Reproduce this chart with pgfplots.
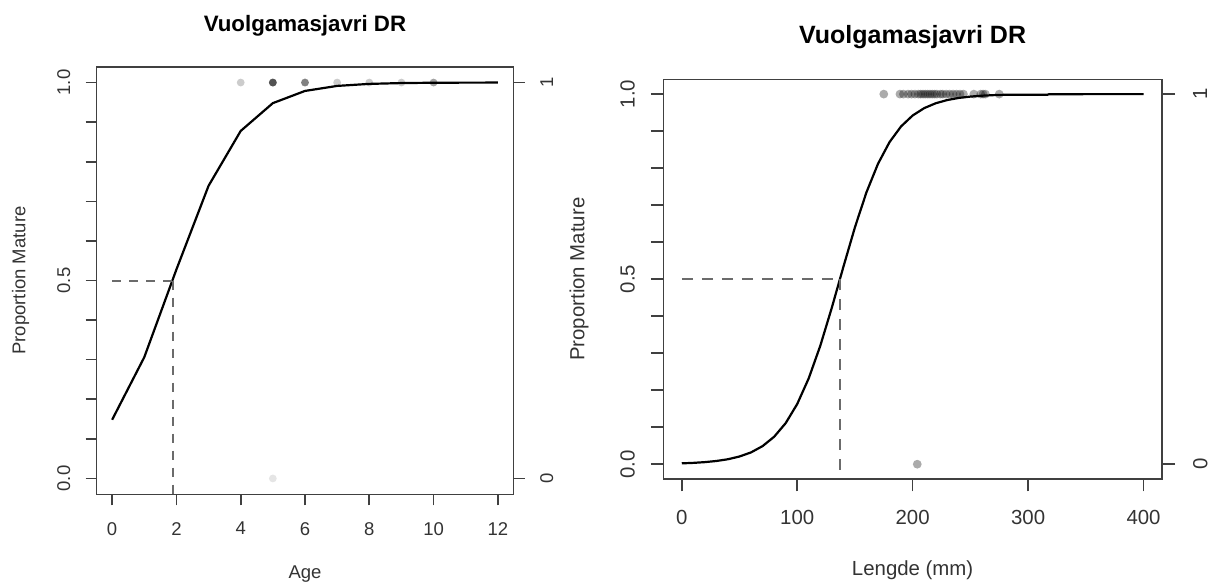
\documentclass[border=0pt]{standalone}
\usepackage{pgfplots}
\pgfplotsset{compat=1.18}
\usepackage{fontspec}
\setmainfont{Liberation Sans}
\begin{document}
\begin{tikzpicture}
\path[use as bounding box] (0,0) rectangle (606pt,293pt);
\pgfplotsset{
  rbase/.style={
    scale only axis, anchor=south west,
    axis line style={black!75, line width=0.8pt},
    every tick/.style={black!75, line width=0.8pt},
    tick align=outside,
    every axis title shift=0pt,
  },
}
% ===================== LEFT PANEL =====================
\begin{axis}[rbase,
  at={(48.35pt,45.85pt)}, width=208.3pt, height=213.8pt,
  xmin=-0.48, xmax=12.48, ymin=-0.04, ymax=1.04,
  xtick={0,2,4,6,8,10,12}, xticklabels={0,2,4,6,8,10,12},
  ytick={0,0.5,1}, yticklabels={0.0,0.5,1.0},
  minor ytick={0.1,0.2,0.3,0.4,0.6,0.7,0.8,0.9},
  xtick pos=left, ytick pos=left,
  major tick length=5.5pt, minor tick length=5.5pt,
  ticklabel style={font=\fontsize{9.25}{11}\selectfont, text=black!80, inner sep=0pt},
  yticklabel style={rotate=90, anchor=south},
  xticklabel style={anchor=north},
  xticklabel shift=8.2pt, yticklabel shift=7.5pt,
  title={\textbf{Vuolgamasjavri DR}},
  title style={at={(axis description cs:0.5,1.0952)}, anchor=center, yshift=0pt, font=\fontsize{11.15}{13}\selectfont, inner sep=0pt},
  xlabel={Age}, ylabel={Proportion Mature},
  xlabel style={at={(axis description cs:0.5,-0.1864)}, anchor=center, font=\fontsize{9.25}{11}\selectfont, text=black!80, inner sep=0pt},
  ylabel style={at={(axis description cs:-0.1829,0.5)}, anchor=center, font=\fontsize{9.25}{11}\selectfont, text=black!80, inner sep=0pt},
]
% observations (mature = 1), overlapping semi-transparent
\addplot[only marks, mark=*, mark size=1.95pt, mark options={draw opacity=0, fill=black, fill opacity=0.2}]
  coordinates {(4,1) (5,1) (5,1) (5,1) (5,1) (5,1) (6,1) (6,1) (6,1) (7,1) (8,1) (9,1) (10,1) (10,1)};
% observations (immature = 0)
\addplot[only marks, mark=*, mark size=1.95pt, mark options={draw opacity=0, fill=black, fill opacity=0.1}]
  coordinates {(5,0)};
% fitted maturity ogive
\addplot[black, line width=1.1pt] coordinates {
  (0,0.1483) (1,0.3062) (2,0.5279) (3,0.7392) (4,0.8778) (5,0.9480) (6,0.9788)
  (7,0.9915) (8,0.9966) (9,0.9987) (10,0.9995) (11,0.9998) (12,0.9999)};
% A50
\addplot[black!58, line width=1pt, dash pattern=on 4.5pt off 4pt] coordinates {(0,0.5) (1.88,0.5)};
\addplot[black!58, line width=1pt, dash pattern=on 4.5pt off 4pt] coordinates {(1.88,0.5) (1.88,-0.04)};
\end{axis}
% right-hand axis of left panel
\begin{axis}[rbase,
  at={(48.35pt,45.85pt)}, width=208.3pt, height=213.8pt,
  xmin=-0.48, xmax=12.48, ymin=-0.04, ymax=1.04,
  axis x line=none, axis y line*=right, tick align=outside,
  ytick={0,1}, yticklabels={0,1},
  major tick length=5.8pt,
  ticklabel style={font=\fontsize{9.25}{11}\selectfont, text=black!80, inner sep=0pt},
  yticklabel style={rotate=90, anchor=north},
  yticklabel shift=7.5pt,
]
\end{axis}
% ===================== RIGHT PANEL =====================
\begin{axis}[rbase,
  at={(331.65pt,53.5pt)}, width=249.35pt, height=199.85pt,
  xmin=-16, xmax=416, ymin=-0.04, ymax=1.04,
  xtick={0,100,200,300,400}, xticklabels={0,100,200,300,400},
  ytick={0,0.5,1}, yticklabels={0.0,0.5,1.0},
  minor ytick={0.1,0.2,0.3,0.4,0.6,0.7,0.8,0.9},
  xtick pos=left, ytick pos=left,
  major tick length=6.2pt, minor tick length=6.2pt,
  ticklabel style={font=\fontsize{10.2}{12}\selectfont, text=black!80, inner sep=0pt},
  yticklabel style={rotate=90, anchor=south},
  xticklabel style={anchor=north},
  xticklabel shift=9.3pt, yticklabel shift=7.8pt,
  title={\textbf{Vuolgamasjavri DR}},
  title style={at={(axis description cs:0.5,1.1048)}, anchor=center, yshift=0pt, font=\fontsize{12.5}{15}\selectfont, inner sep=0pt},
  xlabel={Lengde (mm)}, ylabel={Proportion Mature},
  xlabel style={at={(axis description cs:0.5,-0.2277)}, anchor=center, font=\fontsize{10.2}{12}\selectfont, text=black!80, inner sep=0pt},
  ylabel style={at={(axis description cs:-0.169,0.5)}, anchor=center, font=\fontsize{10.2}{12}\selectfont, text=black!80, inner sep=0pt},
]
\addplot[only marks, mark=*, mark size=2.2pt, mark options={draw opacity=0, fill=black, fill opacity=0.33}]
  coordinates {(175,1) (189,1) (192,1) (196,1) (199,1) (202,1) (205,1) (207,1) (209,1)
  (211,1) (213,1) (215,1) (217,1) (219,1) (221,1) (224,1) (226,1) (229,1) (232,1)
  (235,1) (238,1) (241,1) (244,1) (253,1) (259,1) (261,1) (263,1) (275,1)};
\addplot[only marks, mark=*, mark size=2.2pt, mark options={draw opacity=0, fill=black, fill opacity=0.33}]
  coordinates {(204,0)};
\addplot[black, line width=1.1pt] coordinates {
  (0,0.0023) (10,0.0036) (20,0.0056) (30,0.0087) (40,0.0134) (50,0.0208) (60,0.0319)
  (70,0.0489) (80,0.0741) (90,0.1109) (100,0.1626) (110,0.2322) (120,0.3201)
  (130,0.4231) (140,0.5332) (150,0.6402) (160,0.7348) (170,0.8118) (180,0.8705)
  (190,0.9128) (200,0.9422) (210,0.9621) (220,0.9753) (230,0.9840) (240,0.9897)
  (250,0.9933) (260,0.9957) (270,0.9972) (280,0.9982) (317,0.9985) (318,0.9997) (350,0.9999) (400,1.0)};
\addplot[black!58, line width=1pt, dash pattern=on 5.5pt off 4.5pt] coordinates {(0,0.5) (136.8,0.5)};
\addplot[black!58, line width=1pt, dash pattern=on 5.5pt off 4.5pt] coordinates {(136.8,0.5) (136.8,-0.04)};
\end{axis}
\begin{axis}[rbase,
  at={(331.65pt,53.5pt)}, width=249.35pt, height=199.85pt,
  xmin=-16, xmax=416, ymin=-0.04, ymax=1.04,
  axis x line=none, axis y line*=right, tick align=outside,
  ytick={0,1}, yticklabels={0,1},
  major tick length=6.5pt,
  ticklabel style={font=\fontsize{10.2}{12}\selectfont, text=black!80, inner sep=0pt},
  yticklabel style={rotate=90, anchor=north},
  yticklabel shift=8.9pt,
]
\end{axis}
\end{tikzpicture}
\end{document}
